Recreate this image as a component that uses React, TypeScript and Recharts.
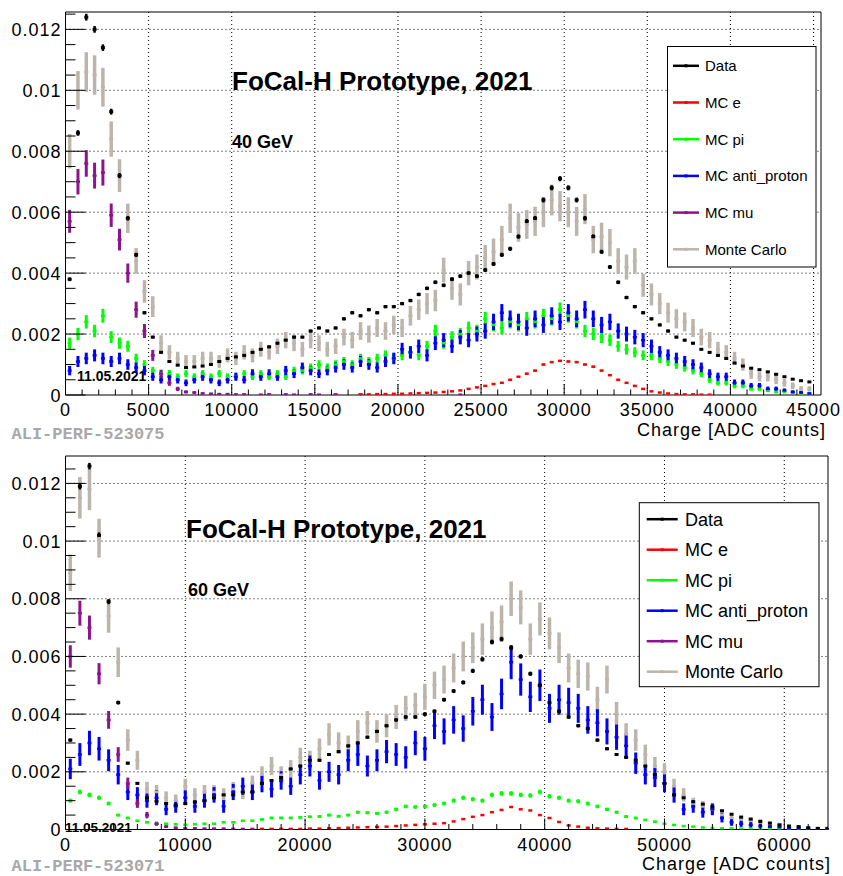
import React from "react";
import { ScatterChart, Scatter, XAxis, YAxis, CartesianGrid, ErrorBar, ReferenceArea } from "recharts";

const _ = null;

// ---- 40 GeV panel: 500 ADC bins from 0 to 45000 (90 bins) ----
const TOP_BIN = 500;

const top_data = [
  0.0038, 0.0086, 0.0124, 0.012, 0.0114, 0.0093, 0.0072, 0.0058, 0.0046, 0.0027,
  0.0019, 0.0014, 0.0011, 0.00098, 0.0009, 0.00092, 0.00095, 0.001, 0.0011, 0.0012,
  0.00125, 0.0013, 0.0014, 0.0015, 0.00158, 0.0017, 0.0018, 0.0019, 0.0019, 0.0021,
  0.0022, 0.0021, 0.0022, 0.0025, 0.0027, 0.0026, 0.0028, 0.0027, 0.0029, 0.0029,
  0.003, 0.0031, 0.0033, 0.0035, 0.0037, 0.0036, 0.0038, 0.0039, 0.004, 0.0039,
  0.0041, 0.0043, 0.0046, 0.0048, 0.0052, 0.0057, 0.0058, 0.0064, 0.0068, 0.0071,
  0.0068, 0.0064, 0.0058, 0.0052, 0.0047, 0.0042, 0.0037, 0.0032, 0.0029, 0.0027,
  0.0025, 0.0023, 0.0021, 0.0019, 0.0018, 0.0017, 0.0015, 0.0014, 0.0013, 0.0012,
  0.00105, 0.00095, 0.00088, 0.00083, 0.00076, 0.00068, 0.0006, 0.00052, 0.00047, 0.00043,
];
const top_e = [
  _, _, _, _, _, _, _, _, _, _,
  _, _, _, _, _, _, _, _, _, _,
  _, _, _, _, _, _, _, _, _, _,
  _, _, _, _, _, 0.00002, 0.00002, 0.00003, 0.00003, 0.00004,
  0.00004, 0.00005, 0.00006, 0.00007, 0.00008, 0.0001, 0.00012, 0.00015, 0.0002, 0.00025,
  0.0003, 0.00036, 0.0004, 0.0005, 0.0006, 0.0007, 0.0008, 0.001, 0.00108, 0.00112,
  0.0011, 0.00108, 0.001, 0.00093, 0.0008, 0.00065, 0.0005, 0.0004, 0.0003, 0.0002,
  0.00012, 0.00008, 0.00005, 0.00003, 0.00002, 0.00002, 0.00001, 0.00001, _, _,
  _, _, _, _, _, _, _, _, _, _,
];
const top_pi = [
  0.0017, 0.002, 0.0024, 0.0021, 0.0026, 0.0019, 0.0017, 0.0016, 0.0012, 0.001,
  0.0008, 0.0007, 0.0007, 0.0006, 0.0007, 0.0006, 0.0007, 0.0006, 0.0007, 0.0006,
  0.0006, 0.0007, 0.0006, 0.0007, 0.0006, 0.0007, 0.0006, 0.0008, 0.0008, 0.0009,
  0.001, 0.0009, 0.001, 0.0011, 0.001, 0.0012, 0.0011, 0.0012, 0.0013, 0.0012,
  0.0013, 0.0014, 0.0013, 0.0016, 0.0021, 0.0017, 0.0019, 0.002, 0.0022, 0.0021,
  0.0025, 0.0023, 0.0022, 0.0024, 0.0023, 0.0025, 0.0024, 0.0026, 0.0025, 0.0028,
  0.0026, 0.0024, 0.0021, 0.002, 0.0019, 0.0018, 0.0016, 0.0015, 0.0014, 0.0013,
  0.0013, 0.0012, 0.0011, 0.001, 0.0009, 0.0008, 0.0007, 0.0005, 0.0004, 0.0004,
  0.0003, 0.0003, 0.0002, 0.0002, 0.00015, 0.0001, 0.0001, 0.00008, 0.00006, 0.00005,
];
const top_ap = [
  0.0008, 0.0011, 0.0012, 0.0013, 0.0012, 0.0011, 0.0012, 0.001, 0.0009, 0.0008,
  0.0006, 0.0005, 0.0006, 0.0005, 0.0004, 0.0005, 0.0006, 0.0005, 0.0004, 0.0005,
  0.0006, 0.0005, 0.0007, 0.0006, 0.0007, 0.0006, 0.0008, 0.0007, 0.0009, 0.0008,
  0.0007, 0.0008, 0.0009, 0.001, 0.0009, 0.0011, 0.001, 0.0009, 0.0011, 0.0012,
  0.0015, 0.0014, 0.0016, 0.0013, 0.0017, 0.0018, 0.0016, 0.0019, 0.0018, 0.002,
  0.0021, 0.0024, 0.0027, 0.0025, 0.0024, 0.0022, 0.0025, 0.0023, 0.0026, 0.0024,
  0.0027, 0.0025, 0.0028, 0.0025, 0.0023, 0.0024, 0.0021, 0.002, 0.0019, 0.0018,
  0.0016, 0.0014, 0.0013, 0.0012, 0.0011, 0.001, 0.0009, 0.0007, 0.0006, 0.0006,
  0.0004, 0.0004, 0.0003, 0.0003, 0.0002, 0.0002, 0.00015, 0.0001, 0.00008, 0.00005,
];
const top_mu = [
  0.0057, 0.007, 0.0076, 0.0072, 0.0073, 0.0059, 0.0051, 0.004, 0.0028, 0.0021,
  0.0013, 0.0007, 0.0004, 0.0002, 0.0001, 0.00008, 0.00005, 0.00004, 0.00003, 0.00003,
  0.00002, 0.00002, _, 0.00001, 0.00002, _, 0.00002, 0.00001, _, 0.00002,
  0.00001, _, 0.00002, _, _, 0.00001, _, _, _, _,
  _, _, _, _, _, _, _, 0.00001, _, _,
  _, _, _, _, _, _, _, _, _, _,
  _, _, _, _, _, _, _, _, _, _,
  _, _, _, _, _, _, _, _, _, _,
  _, _, _, _, _, _, _, _, _, _,
];
const top_mc = [
  0.008, 0.01, 0.0106, 0.0105, 0.0101, 0.0084, 0.0072, 0.0058, 0.0044, 0.0034,
  0.0029, 0.0017, 0.0014, 0.0012, 0.0011, 0.0011, 0.0012, 0.0012, 0.0011, 0.0013,
  0.0012, 0.0014, 0.0013, 0.0015, 0.0014, 0.0016, 0.0018, 0.0017, 0.0015, 0.0018,
  0.0017, 0.0015, 0.0016, 0.0019, 0.0018, 0.0021, 0.002, 0.0022, 0.0021, 0.0023,
  0.0022, 0.0026, 0.0028, 0.003, 0.0031, 0.0041, 0.0035, 0.0033, 0.004, 0.0042,
  0.0045, 0.0047, 0.0051, 0.0058, 0.0055, 0.0056, 0.0057, 0.006, 0.0064, 0.0062,
  0.006, 0.0057, 0.0061, 0.0051, 0.0052, 0.005, 0.0044, 0.0042, 0.0044, 0.0036,
  0.0033, 0.003, 0.0027, 0.0025, 0.0024, 0.0022, 0.0019, 0.0018, 0.0015, 0.0014,
  0.0012, 0.001, 0.0007, 0.0006, 0.0006, 0.0005, 0.0004, 0.0003, 0.0002, 0.0002,
];

// ---- 60 GeV panel: 800 ADC bins from 0 to 64000 (80 bins) ----
const BOT_BIN = 800;

const bot_data = [
  0.0031, 0.0119, 0.0126, 0.0102, 0.0079, 0.0044, 0.0023, 0.0016, 0.0011, 0.00098,
  0.0009, 0.00085, 0.0009, 0.00095, 0.001, 0.0011, 0.0012, 0.0012, 0.0013, 0.0013,
  0.0016, 0.0017, 0.0018, 0.0021, 0.0022, 0.0024, 0.0024, 0.0026, 0.0027, 0.0029,
  0.003, 0.0032, 0.0034, 0.0036, 0.0038, 0.0039, 0.0039, 0.004, 0.0041, 0.0045,
  0.0048, 0.0051, 0.0055, 0.0059, 0.0065, 0.0066, 0.0063, 0.006, 0.0054, 0.005,
  0.0044, 0.0041, 0.0039, 0.0036, 0.0035, 0.0031, 0.0028, 0.0026, 0.0025, 0.0024,
  0.0022, 0.0019, 0.0016, 0.0012, 0.0011, 0.00096, 0.00088, 0.00079, 0.00065, 0.00053,
  0.00043, 0.00036, 0.00028, 0.00022, 0.00016, 0.00012, 0.0001, 0.00006, 0.00004, 0.00004,
];
const bot_e = [
  _, _, _, _, _, _, _, _, _, _,
  _, _, _, _, _, _, _, _, _, _,
  0.00001, 0.00001, 0.00002, 0.00002, 0.00002, 0.00003, 0.00003, 0.00004, 0.00005, 0.00006,
  0.00007, 0.00008, 0.00009, 0.0001, 0.00012, 0.00014, 0.00016, 0.00018, 0.0002, 0.00022,
  0.00028, 0.00036, 0.00044, 0.0005, 0.0006, 0.00068, 0.00078, 0.0007, 0.00066, 0.0005,
  0.0004, 0.00026, 0.00014, 0.0001, 0.00006, 0.00004, 0.00003, 0.00002, 0.00002, _,
  _, _, _, _, _, _, _, _, _, _,
  _, _, _, _, _, _, _, _, _, _,
];
const bot_pi = [
  0.001, 0.0013, 0.0012, 0.0011, 0.0009, 0.0005, 0.0004, 0.0003, 0.00025, 0.0002,
  0.0002, 0.00018, 0.00016, 0.00018, 0.0002, 0.0002, 0.00025, 0.00025, 0.0003, 0.0003,
  0.00035, 0.0004, 0.0004, 0.0004, 0.00042, 0.00044, 0.00045, 0.0005, 0.00046, 0.0005,
  0.0006, 0.00058, 0.00056, 0.0006, 0.0007, 0.0008, 0.00078, 0.0008, 0.00085, 0.0009,
  0.001, 0.0011, 0.00105, 0.001, 0.0012, 0.00125, 0.00125, 0.0012, 0.00118, 0.0013,
  0.00115, 0.0011, 0.001, 0.00098, 0.0009, 0.0008, 0.0007, 0.0006, 0.00045, 0.0004,
  0.00033, 0.00027, 0.0002, 0.00016, 0.00012, 0.0001, 0.00007, 0.00005, 0.00004, 0.00004,
  0.00003, 0.00003, 0.00002, 0.00002, 0.00002, 0.00001, 0.00001, 0.00001, _, _,
];
const bot_ap = [
  0.0021, 0.0026, 0.003, 0.0028, 0.0024, 0.0019, 0.0013, 0.0012, 0.001, 0.0011,
  0.0007, 0.0008, 0.0011, 0.0008, 0.001, 0.0012, 0.0008, 0.0013, 0.0015, 0.0013,
  0.0016, 0.0014, 0.0017, 0.0015, 0.0019, 0.0022, 0.0017, 0.002, 0.0019, 0.0024,
  0.0026, 0.0022, 0.0024, 0.0027, 0.0026, 0.0025, 0.003, 0.0028, 0.0036, 0.0034,
  0.0038, 0.0035, 0.0041, 0.0045, 0.0039, 0.0047, 0.0058, 0.0052, 0.0046, 0.005,
  0.0042, 0.0045, 0.0044, 0.0042, 0.0038, 0.0037, 0.0034, 0.0032, 0.0029, 0.0023,
  0.0019, 0.0018, 0.0016, 0.0012, 0.0007, 0.0008, 0.0006, 0.0007, 0.0004, 0.00025,
  0.0002, 0.00016, 0.00012, 0.0001, 0.00008, 0.00005, 0.00004, 0.00003, 0.00002, 0.00002,
];
const bot_mu = [
  0.006, 0.0075, 0.007, 0.0054, 0.0038, 0.0026, 0.0016, 0.0009, 0.0005, 0.0002,
  0.0001, 0.00006, 0.00004, 0.00004, 0.00003, 0.00003, 0.00003, 0.00002, 0.00002, 0.00002,
  0.00002, 0.00002, 0.00001, 0.00001, _, 0.00001, _, _, _, _,
  _, _, _, _, _, _, _, _, _, _,
  _, _, _, _, _, _, _, _, _, _,
  _, _, _, _, _, _, _, _, _, _,
  _, _, _, _, _, _, _, _, _, _,
  _, _, _, _, _, _, _, _, _, _,
];
const bot_mc = [
  0.0089, 0.0115, 0.0118, 0.0101, 0.0074, 0.0058, 0.0031, 0.0024, 0.0014, 0.0013,
  0.0011, 0.001, 0.0015, 0.0012, 0.0013, 0.0013, 0.0012, 0.0014, 0.0013, 0.0016,
  0.0019, 0.0022, 0.0019, 0.0021, 0.0025, 0.0024, 0.0028, 0.0033, 0.003, 0.0029,
  0.0034, 0.0037, 0.0034, 0.0036, 0.0039, 0.0042, 0.0043, 0.0046, 0.005, 0.0052,
  0.0056, 0.006, 0.0063, 0.0066, 0.007, 0.0072, 0.008, 0.0077, 0.0066, 0.0073,
  0.0068, 0.0063, 0.0056, 0.0054, 0.0053, 0.0045, 0.0052, 0.004, 0.0033, 0.0031,
  0.0026, 0.0022, 0.002, 0.0015, 0.0012, 0.0009, 0.0008, 0.0007, 0.0005, 0.0004,
  0.00035, 0.0003, 0.00025, 0.0002, 0.00015, 0.0001, 0.00008, 0.00005, 0.00004, 0.00003,
];

type Key = "data" | "e" | "pi" | "ap" | "mu" | "mc";

const LEGEND_ORDER: Key[] = ["data", "e", "pi", "ap", "mu", "mc"];
const DRAW_ORDER: Key[] = ["mc", "pi", "ap", "mu", "e", "data"];
const NAMES: Record<Key, string> = {
  data: "Data",
  e: "MC e",
  pi: "MC pi",
  ap: "MC anti_proton",
  mu: "MC mu",
  mc: "Monte Carlo",
};
const COLORS: Record<Key, string> = {
  data: "#000000",
  e: "#ff0000",
  pi: "#00ff00",
  ap: "#0000ff",
  mu: "#8c148c",
  mc: "#bdb4ab",
};
const BAR: Record<Key, number> = { data: 2.5, e: 2.5, pi: 3, ap: 3, mu: 3, mc: 3.5 };
const MARK: Record<Key, [number, number]> = {
  data: [4, 3],
  e: [4, 2.5],
  pi: [4, 2.5],
  ap: [4, 2.5],
  mu: [4, 2.5],
  mc: [4, 2.5],
};

// per-series statistical scale: error = sqrt(value * scale)
const TOP_STAT: Record<Key, number> = { data: 1e-6, e: 1e-6, pi: 2e-5, ap: 3e-5, mu: 2.5e-5, mc: 4e-5 };
const BOT_STAT: Record<Key, number> = { data: 1e-6, e: 5e-7, pi: 5e-6, ap: 6e-5, mu: 2.5e-5, mc: 4.5e-5 };

const FONT = '"Liberation Sans", Arial, Helvetica, sans-serif';
const MONO = '"Liberation Mono", "DejaVu Sans Mono", monospace';

type Pt = { x: number; y: number; e: number };

function toPoints(values: (number | null)[], bin: number, stat: number): Pt[] {
  const pts: Pt[] = [];
  values.forEach((v, i) => {
    if (v !== null) pts.push({ x: (i + 0.5) * bin, y: v, e: Math.sqrt(v * stat) });
  });
  return pts;
}

type PanelCfg = {
  offsetY: number;
  height: number;
  plot: { left: number; top: number; right: number; bottom: number };
  xMax: number;
  yMax: number;
  xMinor: number;
  xMajor: number;
  bin: number;
  values: Record<Key, (number | null)[]>;
  stat: Record<Key, number>;
  title: { x: number; y: number };
  energy: { text: string; x: number; y: number };
  date: { x: number; y: number; size: number };
  tag: { text: string; x: number; y: number };
  xTitle: { x: number; y: number };
  legend: { x: number; y: number; w: number; h: number; first: number; gap: number; l1: number; l2: number; tx: number; size: number };
};

const TOP: PanelCfg = {
  offsetY: 0,
  height: 440,
  plot: { left: 65.5, top: 12, right: 821, bottom: 395 },
  xMax: 45450,
  yMax: 0.01257,
  xMinor: 1000,
  xMajor: 5000,
  bin: TOP_BIN,
  values: { data: top_data, e: top_e, pi: top_pi, ap: top_ap, mu: top_mu, mc: top_mc },
  stat: TOP_STAT,
  title: { x: 232, y: 90 },
  energy: { text: "40 GeV", x: 232, y: 148 },
  date: { x: 77, y: 381, size: 14 },
  tag: { text: "ALI-PERF-523075", x: 11.5, y: 439 },
  xTitle: { x: 826, y: 436 },
  legend: { x: 667.5, y: 46.5, w: 148.5, h: 220.5, first: 19.3, gap: 36.7, l1: 5.5, l2: 31.5, tx: 37.5, size: 15 },
};

const BOT: PanelCfg = {
  offsetY: 440,
  height: 436,
  plot: { left: 65.5, top: 16, right: 828, bottom: 389.5 },
  xMax: 63650,
  yMax: 0.01295,
  xMinor: 2000,
  xMajor: 10000,
  bin: BOT_BIN,
  values: { data: bot_data, e: bot_e, pi: bot_pi, ap: bot_ap, mu: bot_mu, mc: bot_mc },
  stat: BOT_STAT,
  title: { x: 186, y: 98 },
  energy: { text: "60 GeV", x: 188, y: 156 },
  date: { x: 65, y: 391.5, size: 13.5 },
  tag: { text: "ALI-PERF-523071", x: 11.5, y: 431 },
  xTitle: { x: 831, y: 430 },
  legend: { x: 639.3, y: 62.7, w: 179.7, h: 184, first: 16.5, gap: 30.5, l1: 7.4, l2: 38.4, tx: 45.7, size: 18 },
};

function Panel({ cfg }: { cfg: PanelCfg }) {
  const { plot, xMax, yMax, xMinor, xMajor, height } = cfg;
  const xTicks: number[] = [];
  for (let v = 0; v <= xMax; v += xMinor) xTicks.push(v);
  const yTicks: number[] = [];
  for (let i = 0; i * 0.0005 <= yMax; i++) yTicks.push(Math.round(i * 5) / 10000);
  const xMajors = xTicks.filter((v) => v > 0 && v % xMajor === 0);
  const yMajors = yTicks.filter((v) => v > 0 && Math.round(v * 10000) % 20 === 0);

  const renderXTick = (props: any) => {
    const { x, y, payload } = props;
    const v = payload.value as number;
    const major = v % xMajor === 0;
    return (
      <g>
        <line x1={x} x2={x} y1={y} y2={y - (major ? 11 : 5.5)} stroke="#000" strokeWidth={1} />
        {major && (
          <text x={x} y={y + 21} textAnchor="middle" fontSize={18} letterSpacing={1} fontFamily={FONT} fill="#000">
            {v}
          </text>
        )}
      </g>
    );
  };

  const renderYTick = (props: any) => {
    const { x, y, payload } = props;
    const v = payload.value as number;
    const major = Math.round(v * 10000) % 20 === 0;
    return (
      <g>
        <line x1={x} x2={x + (major ? 20 : 10)} y1={y} y2={y} stroke="#000" strokeWidth={1} />
        {major && (
          <text x={x - 4} y={y + 6.5} textAnchor="end" fontSize={18} letterSpacing={1} fontFamily={FONT} fill="#000">
            {v === 0 ? "0" : String(v)}
          </text>
        )}
      </g>
    );
  };

  const lg = cfg.legend;

  return (
    <div style={{ position: "absolute", left: 0, top: cfg.offsetY, width: 843, height }}>
      <svg width={843} height={height} style={{ position: "absolute", left: 0, top: 0, overflow: "visible" }}>
        <text x={cfg.date.x} y={cfg.date.y} fontSize={cfg.date.size} fontWeight={700} fontFamily={FONT} fill="#000">
          11.05.2021
        </text>
      </svg>
      <div style={{ position: "absolute", left: 0, top: 0 }}>
        <ScatterChart
          width={843}
          height={height}
          margin={{ top: plot.top, right: 843 - plot.right, bottom: height - plot.bottom - 30, left: plot.left - 60 }}
        >
          <CartesianGrid horizontalValues={yMajors} verticalValues={xMajors} stroke="#000" strokeDasharray="1 3" />
          <XAxis
            type="number"
            dataKey="x"
            domain={[0, xMax]}
            allowDataOverflow
            ticks={xTicks}
            interval={0}
            tick={renderXTick}
            tickSize={0}
            tickMargin={0}
            axisLine={false}
            tickLine={false}
            height={30}
          />
          <YAxis
            type="number"
            dataKey="y"
            domain={[0, yMax]}
            allowDataOverflow
            ticks={yTicks}
            interval={0}
            tick={renderYTick}
            tickSize={0}
            tickMargin={0}
            axisLine={false}
            tickLine={false}
            width={60}
          />
          {DRAW_ORDER.map((k) => (
            <Scatter
              key={k}
              name={NAMES[k]}
              data={toPoints(cfg.values[k], cfg.bin, cfg.stat[k])}
              fill={COLORS[k]}
              isAnimationActive={false}
              shape={(p: any) => (
                <rect
                  x={p.cx - MARK[k][0] / 2}
                  y={p.cy - MARK[k][1] / 2}
                  width={MARK[k][0]}
                  height={MARK[k][1]}
                  fill={COLORS[k]}
                />
              )}
            >
              <ErrorBar
                dataKey="e"
                direction="y"
                width={0}
                stroke={COLORS[k]}
                strokeWidth={BAR[k]}
                isAnimationActive={false}
              />
            </Scatter>
          ))}
          <ReferenceArea x1={0} x2={xMax} y1={0} y2={yMax} fill="none" fillOpacity={0} stroke="#000" strokeWidth={1} />
        </ScatterChart>
      </div>
      <svg width={843} height={height} style={{ position: "absolute", left: 0, top: 0, pointerEvents: "none", overflow: "visible" }}>
        <text x={cfg.title.x} y={cfg.title.y} fontSize={26} fontWeight={700} fontFamily={FONT} fill="#000">
          FoCal-H Prototype, 2021
        </text>
        <text x={cfg.energy.x} y={cfg.energy.y} fontSize={18} fontWeight={700} fontFamily={FONT} fill="#000">
          {cfg.energy.text}
        </text>
        <text x={cfg.tag.x} y={cfg.tag.y} fontSize={17} fontWeight={700} fontFamily={MONO} fill="#a8a8a8">
          {cfg.tag.text}
        </text>
        <text x={cfg.xTitle.x} y={cfg.xTitle.y} textAnchor="end" fontSize={18} letterSpacing={1} fontFamily={FONT} fill="#000">
          Charge [ADC counts]
        </text>
        <g transform={`translate(${lg.x},${lg.y})`}>
          <rect x={0} y={0} width={lg.w} height={lg.h} fill="#fff" stroke="#000" strokeWidth={1} />
          {LEGEND_ORDER.map((k, i) => {
            const yy = lg.first + i * lg.gap;
            return (
              <g key={k}>
                <line x1={lg.l1} x2={lg.l2} y1={yy} y2={yy} stroke={COLORS[k]} strokeWidth={2.5} />
                <rect x={(lg.l1 + lg.l2) / 2 - 1.5} y={yy - 1.5} width={3} height={3} fill={COLORS[k]} />
                <text x={lg.tx} y={yy + lg.size * 0.36} fontSize={lg.size} fontFamily={FONT} fill="#000">
                  {NAMES[k]}
                </text>
              </g>
            );
          })}
        </g>
      </svg>
    </div>
  );
}

export default function App() {
  return (
    <div style={{ position: "absolute", left: 0, top: 0, width: 843, height: 876, background: "#fff", fontFamily: FONT }}>
      <Panel cfg={TOP} />
      <Panel cfg={BOT} />
    </div>
  );
}
